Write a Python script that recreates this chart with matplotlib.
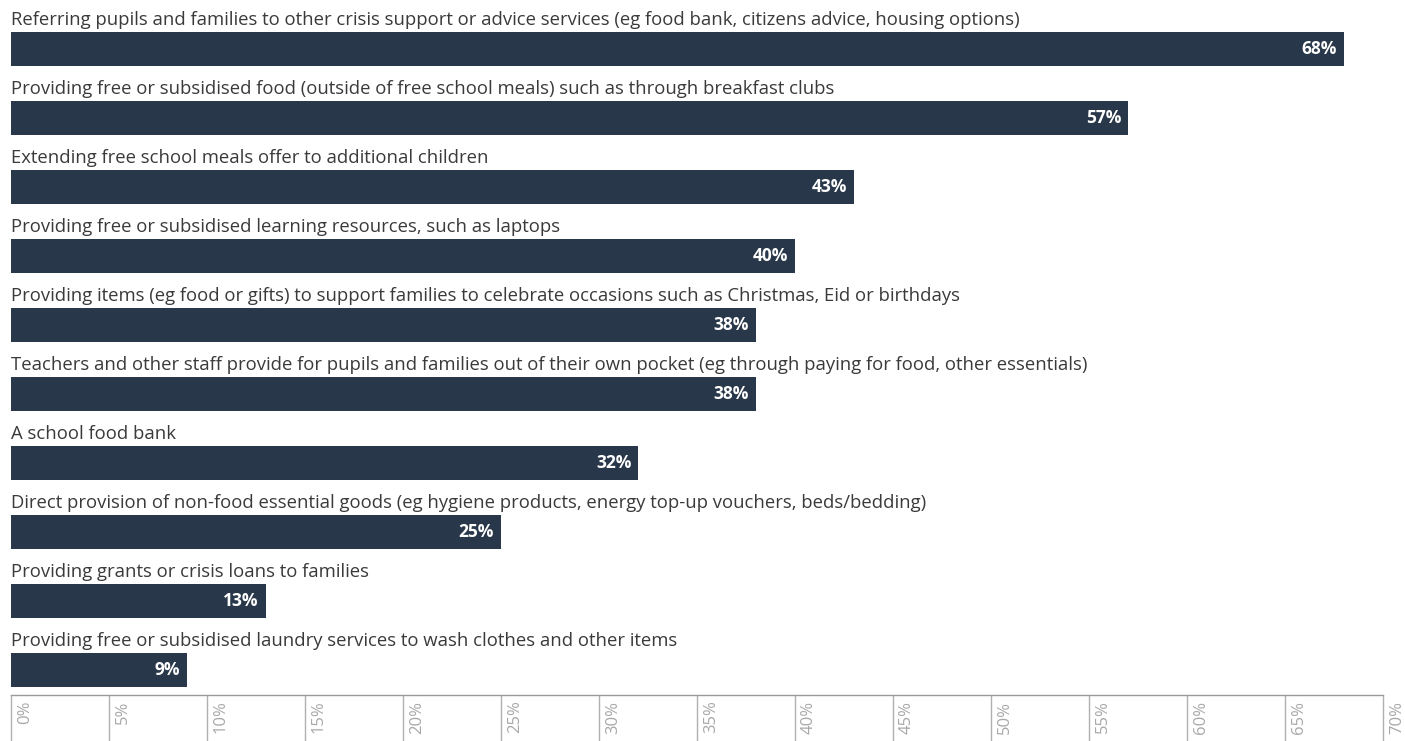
import matplotlib
matplotlib.use("Agg")
import matplotlib.pyplot as plt
import matplotlib.transforms as mtransforms

categories = [
    "Referring pupils and families to other crisis support or advice services (eg food bank, citizens advice, housing options)",
    "Providing free or subsidised food (outside of free school meals) such as through breakfast clubs",
    "Extending free school meals offer to additional children",
    "Providing free or subsidised learning resources, such as laptops",
    "Providing items (eg food or gifts) to support families to celebrate occasions such as Christmas, Eid or birthdays",
    "Teachers and other staff provide for pupils and families out of their own pocket (eg through paying for food, other essentials)",
    "A school food bank",
    "Direct provision of non-food essential goods (eg hygiene products, energy top-up vouchers, beds/bedding)",
    "Providing grants or crisis loans to families",
    "Providing free or subsidised laundry services to wash clothes and other items",
]
values = [68, 57, 43, 40, 38, 38, 32, 25, 13, 9]
tick_values = list(range(0, 71, 5))
tick_labels = [f"{t}%" for t in tick_values]

plt.rcParams['font.family'] = ['Open Sans', 'DejaVu Sans']

W, H = 1405, 741
fig = plt.figure(figsize=(W / 100, H / 100), dpi=100)
left = 11 / W
right = 1383 / W
bottom = (H - 695) / H
ax = fig.add_axes([left, bottom, right - left, 1 - bottom])

bar_color = "#283749"
ys = list(range(len(values)))
ax.barh(ys, values, height=34 / 69, color=bar_color)
ax.set_xlim(0, 70)
ax.set_ylim(9 + 25 / 69, -49 / 69)

texts = []
for y, cat, v in zip(ys, categories, values):
    t = ax.text(0, y - 0.42, cat, ha="left", va="center", fontsize=11, color="#3a3a3a")
    texts.append(t)
    ax.annotate(f"{v}%", xy=(v, y), xytext=(-5, 0), textcoords="offset points",
                ha="right", va="center", fontsize=12.5, fontweight="bold", color="white")

# fit label font size to the reference width of the first label (~1012 px)
fig.canvas.draw()
r = fig.canvas.get_renderer()
w0 = texts[0].get_window_extent(r).width
fs = 11 * 1012 / w0
for t in texts:
    t.set_fontsize(fs)

for s in ["top", "left", "right"]:
    ax.spines[s].set_visible(False)
ax.spines["bottom"].set_color("#9a9a9a")
ax.spines["bottom"].set_linewidth(1.0)
ax.set_yticks([])

ax.set_xticks(tick_values)
ax.set_xticklabels(tick_labels, rotation=90, fontsize=12, color="#a8a8a8", va="top")
ax.tick_params(axis="x", direction="out", length=34, width=1.0, color="#b0b0b0", pad=-30)
offset = mtransforms.ScaledTranslation(14 / 100, 0, fig.dpi_scale_trans)
for lab in ax.get_xticklabels():
    lab.set_transform(lab.get_transform() + offset)

fig.savefig("out.png", dpi=100)
